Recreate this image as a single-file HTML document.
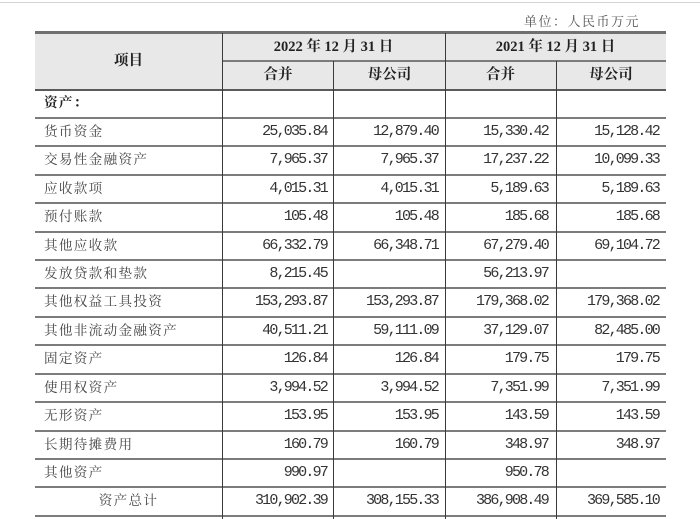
<!DOCTYPE html>
<html>
<head>
<meta charset="utf-8">
<style>
html,body{margin:0;padding:0;background:#fff;}
body{width:700px;height:519px;position:relative;overflow:hidden;}
.abs{position:absolute;}
.hl{position:absolute;left:35px;width:631px;height:2px;background:#7c7c7c;}
.vl{position:absolute;width:1px;background:#3a3a3a;}
.row{position:absolute;left:0;width:700px;height:28.4px;}
.row span{position:absolute;top:0;line-height:28.4px;white-space:nowrap;}
.lb{left:44px;font-family:"Liberation Serif","Noto Serif CJK SC",serif;font-size:13.6px;letter-spacing:1.3px;color:#444;}
.n{text-align:right;font-family:"Liberation Mono",monospace;font-size:15px;letter-spacing:-1.8px;color:#333;}
.c1{left:222px;width:105px;}
.c2{left:334px;width:104px;}
.c3{left:445px;width:103px;}
.c4{left:556px;width:103px;}
.hd{position:absolute;font-family:"Liberation Serif","Noto Serif CJK SC",serif;font-weight:bold;font-size:14.5px;color:#222;text-align:center;}
</style>
</head>
<body>
<div class="abs" style="left:0;top:2px;width:700px;height:1px;background:#d4d4d4;"></div>
<div class="abs" style="left:524px;top:12px;font-family:'Liberation Serif','Noto Serif CJK SC',serif;font-size:13px;letter-spacing:1.5px;color:#555;line-height:20px;">单位：人民币万元</div>

<div class="abs" style="left:35px;top:32px;width:631px;height:57px;background:#e8e8e8;"></div>
<div class="abs" style="left:35px;top:31px;width:631px;height:2.5px;background:#707070;"></div>
<div class="abs" style="left:222px;top:60px;width:444px;height:2px;background:#7c7c7c;"></div>
<div class="hl" style="top:88.5px;background:#5a5a5a;"></div>

<div class="hd" style="left:35px;width:187px;top:50px;line-height:22px;">项目</div>
<div class="hd" style="left:222px;width:223px;top:36px;line-height:22px;">2022 年 12 月 31 日</div>
<div class="hd" style="left:445px;width:221px;top:36px;line-height:22px;">2021 年 12 月 31 日</div>
<div class="hd" style="left:222px;width:112px;top:64px;line-height:22px;">合并</div>
<div class="hd" style="left:334px;width:111px;top:64px;line-height:22px;">母公司</div>
<div class="hd" style="left:445px;width:111px;top:64px;line-height:22px;">合并</div>
<div class="hd" style="left:556px;width:110px;top:64px;line-height:22px;">母公司</div>

<div class="hl" style="top:116.7px;"></div>
<div class="hl" style="top:145.2px;"></div>
<div class="hl" style="top:173.6px;"></div>
<div class="hl" style="top:202px;"></div>
<div class="hl" style="top:230.5px;"></div>
<div class="hl" style="top:258.9px;"></div>
<div class="hl" style="top:287.3px;"></div>
<div class="hl" style="top:315.8px;"></div>
<div class="hl" style="top:344.2px;"></div>
<div class="hl" style="top:372.6px;"></div>
<div class="hl" style="top:401px;"></div>
<div class="hl" style="top:429.5px;"></div>
<div class="hl" style="top:457.9px;"></div>
<div class="hl" style="top:486.3px;"></div>
<div class="hl" style="top:514.8px;"></div>

<div class="vl" style="left:222px;top:33px;height:486px;"></div>
<div class="vl" style="left:333px;top:61px;height:458px;"></div>
<div class="vl" style="left:445px;top:33px;height:486px;"></div>
<div class="vl" style="left:556px;top:61px;height:458px;"></div>

<div class="row" style="top:89.3px;"><span class="lb" style="font-weight:bold;color:#222;">资产：</span></div>
<div class="row" style="top:117.7px;"><span class="lb">货币资金</span><span class="n c1">25,035.84</span><span class="n c2">12,879.40</span><span class="n c3">15,330.42</span><span class="n c4">15,128.42</span></div>
<div class="row" style="top:146.2px;"><span class="lb">交易性金融资产</span><span class="n c1">7,965.37</span><span class="n c2">7,965.37</span><span class="n c3">17,237.22</span><span class="n c4">10,099.33</span></div>
<div class="row" style="top:174.6px;"><span class="lb">应收款项</span><span class="n c1">4,015.31</span><span class="n c2">4,015.31</span><span class="n c3">5,189.63</span><span class="n c4">5,189.63</span></div>
<div class="row" style="top:203px;"><span class="lb">预付账款</span><span class="n c1">105.48</span><span class="n c2">105.48</span><span class="n c3">185.68</span><span class="n c4">185.68</span></div>
<div class="row" style="top:231.5px;"><span class="lb">其他应收款</span><span class="n c1">66,332.79</span><span class="n c2">66,348.71</span><span class="n c3">67,279.40</span><span class="n c4">69,104.72</span></div>
<div class="row" style="top:259.9px;"><span class="lb">发放贷款和垫款</span><span class="n c1">8,215.45</span><span class="n c3">56,213.97</span></div>
<div class="row" style="top:288.3px;"><span class="lb">其他权益工具投资</span><span class="n c1">153,293.87</span><span class="n c2">153,293.87</span><span class="n c3">179,368.02</span><span class="n c4">179,368.02</span></div>
<div class="row" style="top:316.8px;"><span class="lb">其他非流动金融资产</span><span class="n c1">40,511.21</span><span class="n c2">59,111.09</span><span class="n c3">37,129.07</span><span class="n c4">82,485.00</span></div>
<div class="row" style="top:345.2px;"><span class="lb">固定资产</span><span class="n c1">126.84</span><span class="n c2">126.84</span><span class="n c3">179.75</span><span class="n c4">179.75</span></div>
<div class="row" style="top:373.6px;"><span class="lb">使用权资产</span><span class="n c1">3,994.52</span><span class="n c2">3,994.52</span><span class="n c3">7,351.99</span><span class="n c4">7,351.99</span></div>
<div class="row" style="top:402px;"><span class="lb">无形资产</span><span class="n c1">153.95</span><span class="n c2">153.95</span><span class="n c3">143.59</span><span class="n c4">143.59</span></div>
<div class="row" style="top:430.5px;"><span class="lb">长期待摊费用</span><span class="n c1">160.79</span><span class="n c2">160.79</span><span class="n c3">348.97</span><span class="n c4">348.97</span></div>
<div class="row" style="top:458.9px;"><span class="lb">其他资产</span><span class="n c1">990.97</span><span class="n c3">950.78</span></div>
<div class="row" style="top:487.3px;"><span class="lb" style="left:35px;width:187px;text-align:center;">资产总计</span><span class="n c1">310,902.39</span><span class="n c2">308,155.33</span><span class="n c3">386,908.49</span><span class="n c4">369,585.10</span></div>
</body>
</html>
